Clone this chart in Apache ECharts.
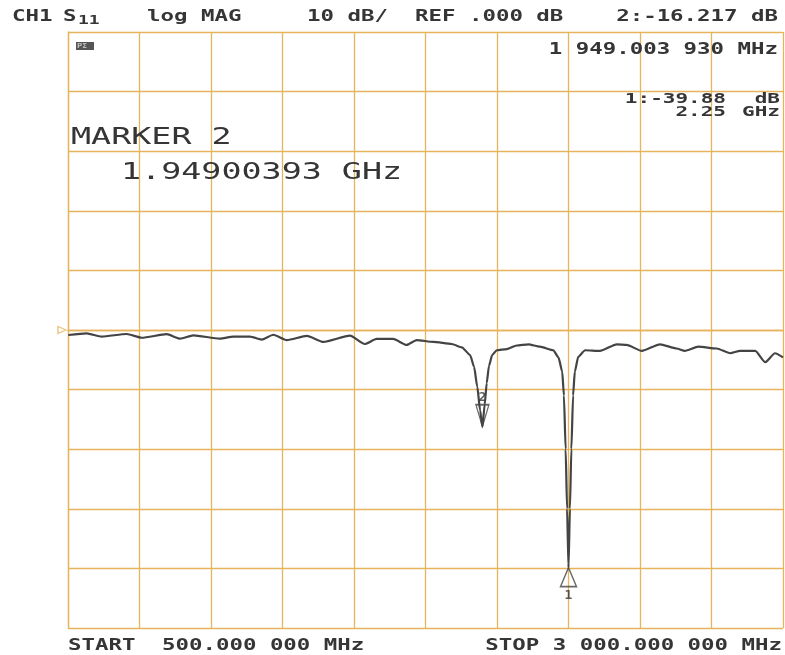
<!DOCTYPE html>
<html>
<head>
<meta charset="utf-8">
<script src="https://cdn.jsdelivr.net/npm/echarts@6/dist/echarts.min.js"></script>
<title>S11 log MAG</title>
<style>
  html, body { margin: 0; padding: 0; background: #fff; }
  #main { width: 785px; height: 655px; }
</style>
</head>
<body>
<div id="main"></div>
<script type="text/javascript">
// trace: frequency (MHz) and magnitude (dB)
var freqMHz = [501, 565, 618, 705, 758, 845, 892, 938, 1031, 1078, 1136, 1177, 1218, 1265, 1335, 1393,
  1486, 1538, 1579, 1637, 1684, 1719, 1777, 1842, 1877, 1906, 1920, 1931, 1941, 1949.00393, 1957, 1964,
  1972, 1983, 1999, 2034, 2069, 2110, 2150, 2197, 2215, 2228, 2234, 2240, 2245, 2250, 2255, 2260, 2266,
  2272, 2284, 2308, 2360, 2419, 2453, 2506, 2570, 2628, 2657, 2704, 2768, 2815, 2850, 2903, 2938, 2972, 3000];
var s11dB = [-0.84, -0.56, -1.1, -0.67, -1.3, -0.7, -1.45, -0.9, -1.45, -1.1, -1.1, -1.6, -0.8, -1.7, -1.0, -2.0,
  -0.95, -2.35, -1.5, -1.5, -2.5, -1.7, -2.0, -2.35, -2.9, -4.2, -6.2, -9.5, -13.5, -16.217, -12.5, -8.9,
  -6.0, -4.2, -3.4, -3.2, -2.6, -2.4, -2.8, -3.4, -4.6, -7, -11, -20, -30, -39.88, -30, -20, -11,
  -7, -4.5, -3.4, -3.5, -2.4, -2.5, -3.5, -2.4, -3.1, -3.5, -2.8, -3.1, -3.9, -3.5, -3.5, -5.4, -3.9, -4.6];

var markerNames = ['1', '2'];
var markerFreqMHz = [2250, 1949.00393];
var markerDB = [-39.88, -16.217];

var startMHz = 500, stopMHz = 3000, freqStep = 250;
var refDB = 0, dbPerDiv = 10;

var gridColor = '#E6B45C';
var inkColor = '#353535';
var traceColor = '#444444';

var myChart = echarts.init(document.getElementById('main'), null, { renderer: 'canvas' });

var trace = freqMHz.map(function (f, i) { return [f, s11dB[i]]; });

// plotter style monospaced text, stretched sideways; y is the top of the capitals
function txt(str, x, y, size, opts) {
  opts = opts || {};
  return {
    type: 'text', x: x, y: y, scaleX: opts.sx || 1.4, z: 10,
    style: {
      text: str,
      font: (opts.bold === false ? '' : 'bold ') + size + 'px "DejaVu Sans Mono"',
      fill: inkColor,
      align: opts.align || 'left',
      verticalAlign: 'top'
    }
  };
}

var option = {
  backgroundColor: '#fff',
  animation: false,
  grid: { left: 68, right: 2, top: 32, bottom: 27 },
  xAxis: {
    type: 'value', min: startMHz, max: stopMHz, interval: freqStep,
    axisLine: { show: true, lineStyle: { color: gridColor, width: 1.3 } },
    axisTick: { show: false }, axisLabel: { show: false },
    splitLine: { show: true, lineStyle: { color: gridColor, width: 1.3 } }
  },
  yAxis: {
    type: 'value', min: refDB - 5 * dbPerDiv, max: refDB + 5 * dbPerDiv, interval: dbPerDiv,
    axisLine: { show: true, lineStyle: { color: gridColor, width: 1.3 } },
    axisTick: { show: false }, axisLabel: { show: false },
    splitLine: { show: true, lineStyle: { color: gridColor, width: 1.3 } }
  },
  series: [
    {
      type: 'line', data: trace, showSymbol: false, smooth: 0.2, smoothMonotone: 'x',
      lineStyle: { color: traceColor, width: 2.2 }, z: 3
    },
    {
      // marker 1: open triangle under the trace point
      type: 'scatter', clip: false, z: 4,
      data: [[markerFreqMHz[0], markerDB[0]]],
      symbol: 'path://M5,0 L10,16 L0,16 Z', symbolSize: [16, 19], symbolOffset: [0, 9.5],
      itemStyle: { color: 'rgba(0,0,0,0)', borderColor: traceColor, borderWidth: 1.5 },
      label: { show: true, position: 'bottom', distance: 2, formatter: markerNames[0],
        color: inkColor, fontWeight: 'bold', fontSize: 13, fontFamily: 'DejaVu Sans Mono' }
    },
    {
      // marker 2: open triangle above the trace point
      type: 'scatter', clip: false, z: 4,
      data: [[markerFreqMHz[1], markerDB[1]]],
      symbol: 'path://M0,0 L10,0 L5,16 Z', symbolSize: [13, 22], symbolOffset: [0, -11],
      itemStyle: { color: 'rgba(0,0,0,0)', borderColor: traceColor, borderWidth: 1.5 },
      label: { show: true, position: 'top', distance: 0, formatter: markerNames[1],
        color: inkColor, fontWeight: 'bold', fontSize: 13, fontFamily: 'DejaVu Sans Mono' }
    },
    {
      // reference level pointer at the left edge
      type: 'scatter', clip: false, z: 4,
      data: [[startMHz, refDB]],
      symbol: 'path://M0,0 L8,4 L0,8 Z', symbolSize: [8, 7], symbolOffset: [-6, 0],
      itemStyle: { color: 'rgba(0,0,0,0)', borderColor: gridColor, borderWidth: 1.3 }
    }
  ],
  graphic: [
    txt('CH1', 12, 9, 16),
    txt('S', 63, 9, 16),
    txt('11', 78, 14.5, 12, { sx: 1.5 }),
    txt('log MAG', 147, 9, 16),
    txt('10 dB/', 307, 9, 16),
    txt('REF .000 dB', 415, 9, 16),
    txt('2:-16.217 dB', 778, 9, 16, { align: 'right' }),
    txt('1 949.003 930 MHz', 778, 41.5, 16, { align: 'right' }),
    txt('1:-39.88', 726, 92.5, 14, { align: 'right', sx: 1.5 }),
    txt('dB', 780, 92.5, 14, { align: 'right', sx: 1.5 }),
    txt('2.25', 726, 105, 14, { align: 'right', sx: 1.5 }),
    txt('GHz', 780, 105, 14, { align: 'right', sx: 1.5 }),
    txt('MARKER 2', 71, 126.5, 23, { bold: false, sx: 1.45 }),
    txt('1.94900393 GHz', 121, 161.5, 23, { bold: false, sx: 1.45 }),
    txt('START', 68, 638, 16),
    txt('500.000 000 MHz', 162, 638, 16),
    txt('STOP 3 000.000 000 MHz', 782, 638, 16, { align: 'right' }),
    { type: 'rect', z: 10, shape: { x: 76, y: 42, width: 18, height: 8 }, style: { fill: '#555' } },
    { type: 'text', z: 11, x: 77, y: 42.5, style: { text: 'PΣ', font: 'bold 7px "DejaVu Sans"', fill: '#bbb', verticalAlign: 'top' } }
  ]
};

myChart.setOption(option);
</script>
</body>
</html>
